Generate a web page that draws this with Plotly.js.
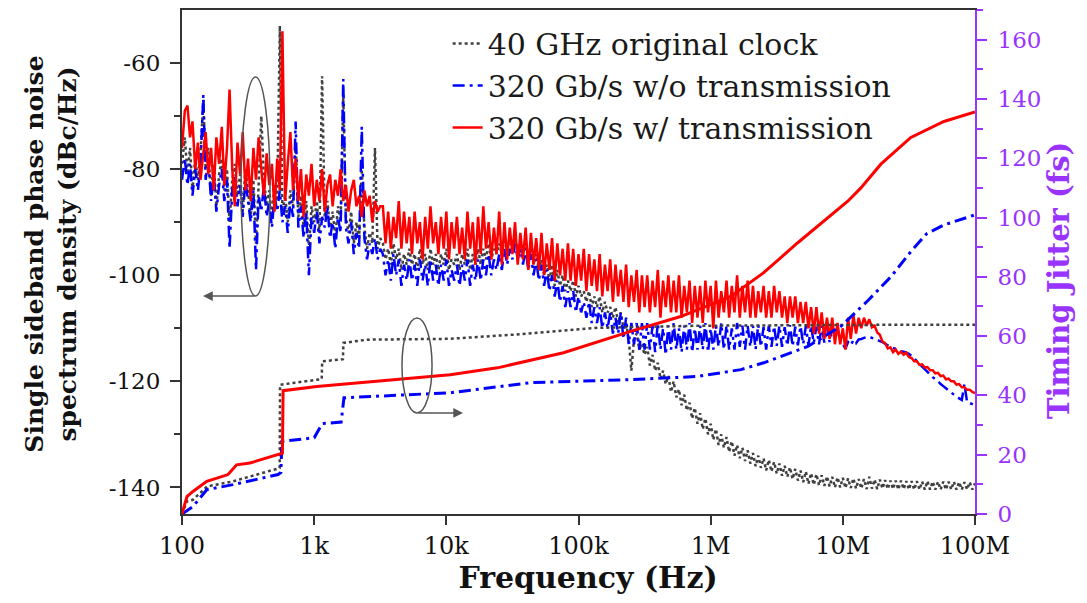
<!DOCTYPE html>
<html><head><meta charset="utf-8">
<script src="https://cdn.plot.ly/plotly-3.0.1.min.js"></script>
<style>html,body{margin:0;padding:0;background:#fff}#chart{width:1087px;height:603px}</style>
</head><body><div id="chart"></div>
<script>
// Offset frequency (Hz) shared by the three measured phase-noise spectra
const freq = [
 100,105,110,115,120,126,132,138,145,151,
 158,166,174,182,191,200,209,219,229,240,
 251,263,275,288,302,316,331,347,363,380,
 398,417,437,457,479,501,525,550,575,603,
 631,661,692,724,759,794,832,871,912,955,
 1000,1047,1096,1148,1202,1259,1318,1380,1445,1514,
 1585,1660,1738,1820,1905,1995,2089,2188,2291,2399,
 2512,2630,2754,2884,3020,3162,
 3311,3467,3631,3802,3981,4169,4365,4571,4786,5012,
 5248,5495,5754,6026,6310,6607,6918,7244,7586,7943,
 8318,8710,9120,9550,
 1e4,1.047e4,1.096e4,1.148e4,1.202e4,1.259e4,1.318e4,1.380e4,1.445e4,1.514e4,
 1.585e4,1.660e4,1.738e4,1.820e4,1.905e4,1.995e4,2.089e4,2.188e4,2.291e4,2.399e4,
 2.512e4,2.630e4,2.754e4,2.884e4,3.020e4,3.162e4,3.311e4,3.467e4,3.631e4,3.802e4,
 3.981e4,4.169e4,4.365e4,4.571e4,4.786e4,5.012e4,5.248e4,5.495e4,5.754e4,6.026e4,
 6.310e4,6.607e4,6.918e4,7.244e4,7.586e4,7.943e4,8.318e4,8.710e4,9.120e4,9.550e4,
 1e5,1.047e5,1.096e5,1.148e5,1.202e5,1.259e5,1.318e5,1.380e5,1.445e5,1.514e5,
 1.585e5,1.660e5,1.738e5,1.820e5,1.905e5,1.995e5,2.089e5,2.188e5,2.291e5,2.399e5,
 2.512e5,2.630e5,2.754e5,2.884e5,3.020e5,3.162e5,3.311e5,3.467e5,3.631e5,3.802e5,
 3.981e5,4.169e5,4.365e5,4.571e5,4.786e5,5.012e5,5.248e5,5.495e5,5.754e5,6.026e5,
 6.310e5,6.607e5,6.918e5,7.244e5,7.586e5,7.943e5,8.318e5,8.710e5,9.120e5,9.550e5,
 1e6,1.047e6,1.096e6,1.148e6,1.202e6,1.259e6,1.318e6,1.380e6,1.445e6,1.514e6,
 1.585e6,1.660e6,1.738e6,1.820e6,1.905e6,1.995e6,2.089e6,2.188e6,2.291e6,2.399e6,
 2.512e6,2.630e6,2.754e6,2.884e6,3.020e6,3.162e6,3.311e6,3.467e6,3.631e6,3.802e6,
 3.981e6,4.169e6,4.365e6,4.571e6,4.786e6,5.012e6,5.248e6,5.495e6,5.754e6,6.026e6,
 6.310e6,6.607e6,6.918e6,7.244e6,7.586e6,7.943e6,8.318e6,8.710e6,9.120e6,9.550e6,
 1e7,1.047e7,1.096e7,1.148e7,1.202e7,1.259e7,1.318e7,1.380e7,1.445e7,1.514e7,
 1.585e7,1.660e7,1.738e7,1.820e7,1.905e7,1.995e7,2.089e7,2.188e7,2.291e7,2.399e7,
 2.512e7,2.630e7,2.754e7,2.884e7,3.020e7,3.162e7,3.311e7,3.467e7,3.631e7,3.802e7,
 3.981e7,4.169e7,4.365e7,4.571e7,4.786e7,5.012e7,5.248e7,5.495e7,5.754e7,6.026e7,
 6.310e7,6.607e7,6.918e7,7.244e7,7.586e7,7.943e7,8.318e7,8.710e7,9.120e7,9.550e7,
 1e8
];
// SSB phase noise (dBc/Hz): 40 GHz original clock
const pnOriginal = [
 -79,-74,-81,-76,-84,-78,-82,-77,-67,-80,
 -76,-85,-79,-87,-81,-78,-84,-80,-90,-82,
 -79,-85,-81,-88,-80,-84,-89,-82,-94,-83,
 -70,-82,-87,-84,-89,-83,-86,-53,-88,-85,
 -90,-84,-87,-75,-89,-85,-91,-86,-95,-87,
 -90,-86,-92,-62.5,-89,-86,-91,-88,-93,-87,
 -90,-66,-89,-92,-88,-94,-90,-93,-80,-91,
 -95,-92,-94,-76,-95,-93,
 -94,-97,-95,-98,-94,-97,-95,-99,-96,-98,
 -95,-98,-96,-99,-95,-98,-96,-99,-95,-98,
 -96,-99,-96,-98,-95,-99,-97,-98,-96,-99,
 -96,-98,-95,-99,-96,-98,-95,-98,-95,-97,
 -94,-97,-95,-96,-94,-96,-93,-95,-93,-95,
 -93,-95,-94,-96,-94,-97,-95,-98,-96,-99,
 -97,-100,-98,-101,-98,-102,-99,-102,-100,-103,
 -101,-103,-101,-104,-102,-104,-103,-105,-103,-106,
 -104,-106,-104,-107,-105,-107,-106,-108,-106,-109,
 -107,-110,-109,-112,-118,-112,-111,-114,-113,-115,
 -113.5,-117,-115,-118,-116.5,-119.5,-118,-120.5,-119,-122,
 -120,-123,-121.5,-124.5,-122.5,-125.5,-124,-127,-125,-128,
 -126,-129,-127,-130,-128,-131,-129,-132,-130,-132.5,
 -130.5,-133.3,-131.3,-134,-132,-134.5,-132.5,-135,-133,-135.5,
 -133.5,-136,-134,-136.3,-134.5,-136.8,-134.8,-137,-135.2,-137.4,
 -135.5,-137.8,-135.9,-138,-136.2,-138.4,-136.5,-138.7,-136.8,-139,
 -137,-139.3,-137.3,-139.5,-137.5,-139.6,-137.7,-139.7,-137.9,-139.8,
 -138,-140,-138.1,-140,-138.2,-140.1,-138.3,-140.1,-138.3,-140.2,
 -138.4,-140.2,-138.4,-140.3,-138,-140.2,-138.5,-140.3,-138.5,-140.2,
 -138.6,-140.3,-138.7,-140.3,-138.7,-140.4,-138.7,-140.3,-138.8,-140.4,
 -138.8,-140.4,-138.8,-140.4,-138.9,-140.4,-138.8,-140.4,-138.9,-140.4,
 -138.9,-140.4,-138.9,-140.4,-138.9,-140.4,-138.9,-140.4,-139,-140.4,
 -139,-140.4,-139,-140.4,-139.2
];
// SSB phase noise (dBc/Hz): 320 Gb/s w/o transmission
const pnNoTrans = [
 -82,-78,-83,-79,-85,-80,-84,-79,-66,-82,
 -78,-86,-81,-88,-83,-80,-86,-82,-95,-84,
 -81,-87,-83,-89,-82,-86,-90,-84,-99,-85,
 -88,-83,-89,-86,-91,-85,-88,-84,-90,-87,
 -92,-86,-89,-71,-91,-87,-93,-88,-100,-89,
 -92,-88,-94,-89,-91,-87,-93,-90,-95,-89,
 -92,-63,-91,-94,-90,-96,-92,-95,-72,-93,
 -97,-94,-96,-93,-97,-95,
 -96,-100,-97,-101,-96,-100,-97,-102,-98,-101,
 -97,-101,-98,-102,-97,-101,-98,-102,-97,-101,
 -98,-102,-98,-101,-97,-102,-99,-101,-98,-102,
 -98,-101,-97,-102,-98,-101,-97,-101,-97,-100,
 -96,-100,-97,-99,-96,-99,-95,-98,-95,-97,
 -94,-97,-95,-98,-95,-99,-96,-100,-97,-101,
 -98,-102,-99,-103,-100,-104,-101,-105,-102,-106,
 -103,-106,-103,-107,-104,-107,-105,-108,-105,-109,
 -106,-109,-106,-110,-107,-110,-107,-111,-108,-111,
 -107,-112,-108,-113,-109,-113,-109,-114,-109,-114,
 -109,-114,-109.5,-114.5,-109,-114,-110,-115,-109.5,-114,
 -109,-114,-110,-114.5,-109.5,-114,-109,-114.5,-110,-114,
 -109.5,-114,-109,-114.5,-110,-114,-109.5,-113.5,-109,-114,
 -109.5,-114,-110,-114,-109,-113.5,-109.5,-114,-109.5,-113.5,
 -109.5,-114,-109.3,-113.5,-109.8,-114,-109.5,-113.5,-109.6,-113.3,
 -109.5,-113.5,-109.8,-113.3,-109.4,-113.4,-109.7,-113.2,-109.6,-113,
 -109.6,-113.2,-109.5,-112.8,-109.7,-113,-109.5,-112.7,-109.6,-112.6,
 -109.8,-112.2,-110.2,-112,-113,-113.8,-112.6,-113.2,-112.2,-112.8,
 -112.1,-112,-111.8,-111.7,-111.6,-111.8,-112,-112.2,-112.4,-112.6,
 -112.9,-113.2,-113.5,-113.7,-113.9,-114.1,-114.3,-114.4,-114.6,-114.8,
 -115.2,-115.7,-116.2,-116.7,-117.2,-117.7,-118.2,-118.7,-119.2,-119.6,
 -120,-120.5,-120.9,-121.3,-121.7,-122.1,-122.5,-122.9,-123.2,-123.5,
 -120.5,-123.9,-124.1,-124.3,-124.5
];
// SSB phase noise (dBc/Hz): 320 Gb/s w/ transmission
const pnWithTrans = [
 -76,-69,-68,-74,-71,-80,-75,-82,-77,-73,
 -81,-76,-84,-74,-79,-72,-83,-76,-65,-80,
 -87,-75,-81,-73,-84,-78,-86,-76,-82,-74,
 -80,-85,-77,-83,-79,-88,-78,-84,-54,-86,
 -79,-73,-84,-78,-86,-80,-89,-81,-85,-79,
 -87,-82,-86,-80,-88,-83,-81,-87,-82,-85,
 -80,-86,-83,-88,-84,-82,-87,-85,-89,-84,
 -87,-85,-90,-86,-88,-87,
 -87,-94,-88,-95,-89,-93,-86,-95,-88,-94,
 -89,-96,-88,-94,-90,-97,-89,-95,-87,-94,
 -90,-96,-89,-95,-88,-97,-90,-95,-89,-96,
 -91,-97,-88,-95,-90,-98,-89,-96,-87,-95,
 -90,-97,-91,-96,-88,-98,-90,-97,-91,-96,
 -90,-98,-92,-97,-91,-99,-92,-98,-93,-99,
 -92,-100,-94,-99,-93,-101,-94,-100,-95,-101,
 -94,-101,-95,-102,-96,-101,-95,-103,-96,-102,
 -97,-103,-96,-104,-98,-103,-97,-105,-98,-104,
 -99,-105,-98,-106,-100,-105,-99,-107,-100,-106,
 -100,-107,-101,-106,-99,-108,-101,-106,-100,-107,
 -101,-107,-100,-108,-102,-107,-101,-109,-102,-108,
 -102,-109,-101,-107,-102,-110,-101,-108,-103,-107,
 -101,-108,-102,-107,-100,-108,-102,-107,-101,-108,
 -102,-108,-103,-107,-102,-108,-103,-108,-102,-107,
 -103,-108,-104,-109,-104,-108,-104,-109,-105,-109,
 -105,-110,-106,-111,-106,-111,-107,-112,-108,-112,
 -108,-113,-109,-113,-110,-114,-108,-112,-107.5,-111,
 -108,-110,-108,-109.5,-108.3,-109.8,-109.5,-110.8,-111.2,-112.5,
 -112.8,-113.8,-113.6,-114.5,-114,-114.8,-114.4,-115,-114.6,-115.4,
 -115.6,-116.2,-116.2,-116.9,-116.8,-117.4,-117.3,-117.9,-117.9,-118.5,
 -118.4,-119,-118.9,-119.6,-119.5,-120,-120,-120.6,-120.5,-121.1,
 -121.1,-121.6,-121.6,-122,-122.2
];
// Integrated timing jitter (fs)
const jitFreqOriginal = [100,109,121,155,243,521,548,552,1109,1140,1150,1622,1650,1665,2512,10700,32200,139000,795000,19500000,100000000];
const jitOriginal     = [0,4.3,4.8,9.3,11,15,15.5,43.6,45.3,45.5,51.5,52,52.2,57.7,58.8,59.1,60.5,62.8,63.5,63.8,63.8];
const jitFreqNoTrans = [100,121,154,243,533,560,570,1000,1150,1600,1680,10700,43300,248000,795000,1690000,2520000,5430000,9660000,15500000,23100000,32700000,43000000,58200000,100000000];
const jitNoTrans     = [0,2.5,8.2,9.9,13.3,14,24.5,25.7,30.5,31,39.2,40.9,44.3,45.3,46.4,48.7,51,56.5,63.3,72,80,88.5,94.5,97.5,100.9];
const jitFreqWithTrans = [100,109,121,154,223,259,327,533,575,582,1047,10700,24300,77000,248000,593000,1420000,2520000,4560000,10900000,13700000,19400000,32700000,58200000,100000000];
const jitWithTrans     = [0,5.9,7.6,11,13.3,16.6,17.2,20,20.5,41.6,43,47,49.3,54.4,61.6,66.6,73.4,81.4,91.5,105.5,110,118,127,132.4,135.6];

const seriesNames = ['40 GHz original clock','320 Gb/s w/o transmission','320 Gb/s w/ transmission'];
const xTickVals = [100,1000,10000,100000,1000000,10000000,100000000];
const xTickText = ['100','1k','10k','100k','1M','10M','100M'];
const yTickVals = [-140,-120,-100,-80,-60];
const yTickText = ['-140','-120','-100','-80','-60'];

const FONT = 'DejaVu Serif';
const PURPLE = '#9933FF';
const GRAY = '#404040', BLUE = '#0000FF', RED = '#FF0000';
const DASHDOT = '12px,5px,3px,5px';
const NB = '&nbsp;';

const traces = [
 {x:freq, y:pnOriginal, name:seriesNames[0], legendgroup:'a', type:'scatter', mode:'lines',
  line:{color:GRAY, width:2.5, dash:'dot', simplify:false}},
 {x:freq, y:pnNoTrans, name:seriesNames[1], legendgroup:'b', type:'scatter', mode:'lines',
  line:{color:BLUE, width:2.5, dash:DASHDOT, simplify:false}},
 {x:freq, y:pnWithTrans, name:seriesNames[2], legendgroup:'c', type:'scatter', mode:'lines',
  line:{color:RED, width:2.5, simplify:false}},
 {x:jitFreqOriginal, y:jitOriginal, yaxis:'y2', showlegend:false, type:'scatter', mode:'lines',
  line:{color:GRAY, width:2.5, dash:'dot'}},
 {x:jitFreqNoTrans, y:jitNoTrans, yaxis:'y2', showlegend:false, type:'scatter', mode:'lines',
  line:{color:BLUE, width:3, dash:DASHDOT}},
 {x:jitFreqWithTrans, y:jitWithTrans, yaxis:'y2', showlegend:false, type:'scatter', mode:'lines',
  line:{color:RED, width:3}}
];

const layout = {
 width:1087, height:603,
 margin:{l:182, r:112, t:10, b:89},
 paper_bgcolor:'#fff', plot_bgcolor:'#fff',
 font:{family:FONT, color:'#111'},
 showlegend:true,
 legend:{x:0.335, xanchor:'left', y:0.985, yanchor:'top', bgcolor:'rgba(0,0,0,0)',
  font:{family:FONT, size:30, color:'#1a1a1a'}, tracegroupgap:4, traceorder:'normal'},
 xaxis:{type:'log', range:[2,8], tickmode:'array', tickvals:xTickVals, ticktext:xTickText,
  ticks:'outside', ticklen:9, tickwidth:2, tickcolor:'#333', showline:true, linecolor:'#333', linewidth:2,
  mirror:true, showgrid:false, zeroline:false, tickfont:{size:24, color:'#111'},
  title:{text:NB+NB+'<b>Frequency (Hz)</b>', font:{size:30, color:'#111'}, standoff:6}},
 yaxis:{range:[-145,-50], tickmode:'array', tickvals:yTickVals, ticktext:yTickText,
  ticks:'outside', ticklen:10, tickwidth:2, tickcolor:'#333', ticklabelstandoff:5,
  minor:{tickvals:[-130,-110,-90,-70], ticks:'outside', ticklen:6, tickwidth:2, tickcolor:'#333'},
  showline:true, linecolor:'#333', linewidth:2, showgrid:false, zeroline:false,
  tickfont:{size:23, color:'#111'},
  title:{text:NB+NB+'<b>Single sideband phase noise</b><br>'+NB+NB+'<b>spectrum density (dBc/Hz)</b>', font:{size:25, color:'#111'}, standoff:25}},
 yaxis2:{overlaying:'y', side:'right', range:[0,170], tickmode:'linear', tick0:0, dtick:20,
  ticks:'outside', ticklen:10, tickwidth:2, tickcolor:PURPLE, ticklabelstandoff:6,
  minor:{dtick:10, ticks:'outside', ticklen:6, tickwidth:2, tickcolor:PURPLE},
  showline:true, linecolor:PURPLE, linewidth:2, showgrid:false, zeroline:false,
  tickfont:{size:23, color:PURPLE},
  title:{text:'<b>Timing Jitter (fs)</b>'+NB+NB+NB+NB, font:{size:29, color:PURPLE}, standoff:7}},
 shapes:[
  {type:'circle', xref:'paper', yref:'paper', x0:0.0744, x1:0.111, y0:0.4325, y1:0.867, line:{color:'#555', width:1.5}},
  {type:'circle', xref:'paper', yref:'paper', x0:0.2774, x1:0.3153, y0:0.2004, y1:0.3889, line:{color:'#555', width:1.5}}
 ],
 annotations:[
  {xref:'paper', yref:'paper', x:0.0265, y:0.4325, text:'', showarrow:true, ax:53, ay:0,
   arrowhead:2, arrowsize:1.3, arrowwidth:1.5, arrowcolor:'#555'},
  {xref:'paper', yref:'paper', x:0.3544, y:0.2004, text:'', showarrow:true, ax:-46, ay:0,
   arrowhead:2, arrowsize:1.3, arrowwidth:1.5, arrowcolor:'#555'}
 ]
};

Plotly.newPlot('chart', traces, layout, {displayModeBar:false, staticPlot:true});
</script>
</body></html>
